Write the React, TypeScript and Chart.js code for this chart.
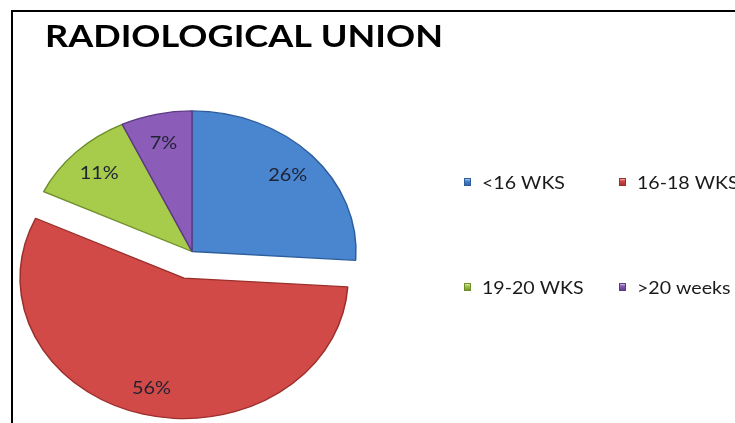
import React, { useEffect, useRef } from "react";
import { Chart, registerables } from "chart.js";

Chart.register(...registerables);

const TITLE = "RADIOLOGICAL UNION";
const CATEGORIES = ["<16 WKS", "16-18 WKS", "19-20 WKS", ">20 weeks"];
const PERCENTS = [26, 56, 11, 7];
const COLORS = ["#4a85cf", "#d24a48", "#a7cb4b", "#8c5db8"];
const EDGE_COLORS = ["#2d5e9c", "#9c2f2c", "#6d8d2b", "#5c3a86"];
const EXPLODE = [0, 32, 0, 0];

const TILT = 0.857;
const PIE_RADIUS = 164;
const FONT = "Lato, 'Open Sans', sans-serif";

function drawStretched(ctx: any, text: string, x: number, y: number, sx: number) {
  ctx.save();
  ctx.translate(x, y);
  ctx.scale(sx, 1);
  ctx.fillText(text, 0, 0);
  ctx.restore();
}

const customPlugin = {
  id: "customLook",
  beforeDraw(chart: any) {
    const ctx = chart.ctx;
    ctx.save();
    ctx.fillStyle = "#ffffff";
    ctx.fillRect(0, 0, chart.width, chart.height);
    ctx.strokeStyle = "#000000";
    ctx.lineWidth = 2;
    ctx.beginPath();
    ctx.moveTo(12, chart.height + 4);
    ctx.lineTo(12, 11);
    ctx.lineTo(chart.width + 4, 11);
    ctx.stroke();
    // title
    ctx.fillStyle = "#000000";
    ctx.font = `bold 31px ${FONT}`;
    ctx.textBaseline = "alphabetic";
    ctx.textAlign = "left";
    const w = ctx.measureText(TITLE).width;
    drawStretched(ctx, TITLE, 45, 47, 398 / w);
    ctx.restore();
  },
  beforeDatasetsDraw(chart: any) {
    const meta = chart.getDatasetMeta(0);
    const c = meta.data[0];
    const cx = c.x;
    const cy = c.y;
    chart.$pieCenter = { cx, cy };
    meta.data.forEach((arc: any, i: number) => {
      const e = EXPLODE[i] || 0;
      const mid = (arc.startAngle + arc.endAngle) / 2;
      arc.$shift = { dx: Math.cos(mid) * e, dy: Math.sin(mid) * e };
      arc.x += arc.$shift.dx;
      arc.y += arc.$shift.dy;
    });
    const ctx = chart.ctx;
    ctx.save();
    ctx.translate(cx, cy);
    ctx.scale(1, TILT);
    ctx.translate(-cx, -cy);
  },
  afterDatasetsDraw(chart: any) {
    const ctx = chart.ctx;
    ctx.restore();
    const meta = chart.getDatasetMeta(0);
    const { cx, cy } = chart.$pieCenter;
    meta.data.forEach((arc: any) => {
      arc.x -= arc.$shift.dx;
      arc.y -= arc.$shift.dy;
    });

    ctx.save();
    ctx.font = `18px ${FONT}`;
    ctx.fillStyle = "#1f2233";
    ctx.textAlign = "center";
    ctx.textBaseline = "middle";
    const lsx = 39 / ctx.measureText("26%").width;
    meta.data.forEach((arc: any, i: number) => {
      const mid = (arc.startAngle + arc.endAngle) / 2;
      const r = arc.outerRadius * 0.8 + (EXPLODE[i] || 0);
      const x = cx + Math.cos(mid) * r;
      const y = cy + Math.sin(mid) * r * TILT;
      drawStretched(ctx, `${chart.data.datasets[0].data[i]}%`, x, y + 1, lsx);
    });
    ctx.restore();

    // legend (2 x 2)
    const cols = [464, 619];
    const rows = [182, 287];
    ctx.save();
    ctx.font = `18px ${FONT}`;
    ctx.textBaseline = "middle";
    ctx.textAlign = "left";
    const gsx = 83 / ctx.measureText(chart.data.labels[0]).width;
    chart.data.labels.forEach((lab: string, i: number) => {
      const x = cols[i % 2];
      const y = rows[Math.floor(i / 2)];
      const g = ctx.createLinearGradient(0, y - 4, 0, y + 4);
      g.addColorStop(0, "#ffffff");
      g.addColorStop(0.35, COLORS[i]);
      g.addColorStop(1, EDGE_COLORS[i]);
      ctx.fillStyle = g;
      ctx.fillRect(x, y - 4, 7, 8);
      ctx.strokeStyle = EDGE_COLORS[i];
      ctx.lineWidth = 1;
      ctx.strokeRect(x + 0.5, y - 3.5, 6, 7);
      ctx.fillStyle = "#1a1a1a";
      drawStretched(ctx, lab, x + 18, y + 1, gsx);
    });
    ctx.restore();
  },
};

export default function App() {
  const ref = useRef<HTMLCanvasElement | null>(null);
  useEffect(() => {
    document.body.style.margin = "0";
    const canvas = ref.current;
    if (!canvas) return;
    const chart = new Chart(canvas, {
      type: "pie",
      data: {
        labels: CATEGORIES,
        datasets: [
          {
            data: PERCENTS,
            backgroundColor: COLORS,
            borderColor: EDGE_COLORS,
            borderWidth: 1.5,
            radius: PIE_RADIUS,
            clip: false,
          } as any,
        ],
      },
      options: {
        animation: false,
        responsive: false,
        events: [],
        layout: { padding: { left: 20, right: 371, top: 100, bottom: 20 } },
        plugins: {
          legend: { display: false },
          title: { display: false },
          tooltip: { enabled: false },
        },
      },
      plugins: [customPlugin],
    });
    return () => chart.destroy();
  }, []);
  return (
    <div style={{ position: "fixed", left: 0, top: 0, width: 735, height: 423, background: "#fff" }}>
      <canvas ref={ref} width={735} height={423} style={{ display: "block" }} />
    </div>
  );
}
